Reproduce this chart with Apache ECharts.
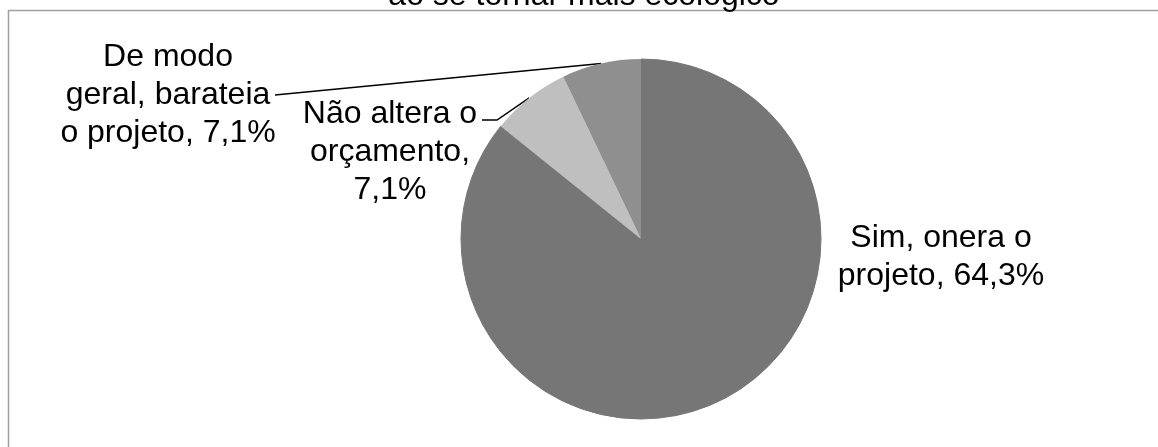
<!DOCTYPE html>
<html>
<head>
<meta charset="utf-8">
<script src="https://cdn.jsdelivr.net/npm/echarts@6/dist/echarts.min.js"></script>
<style>
html,body{margin:0;padding:0;background:#fff;}
#main{width:1158px;height:447px;}
</style>
</head>
<body>
<div id="main"></div>
<script>
// dados
var categorias = ['Sim, onera o projeto', 'Outros', 'Não altera o orçamento', 'De modo geral, barateia o projeto'];
var valores = [64.3, 21.4, 7.1, 7.1];
var rotulos = ['Sim, onera o\nprojeto, 64,3%', '', 'Não altera o\norçamento,\n7,1%', 'De modo\ngeral, barateia\no projeto, 7,1%'];
var cores = ['#767676', '#767676', '#bfbfbf', '#8f8f8f'];
var titulo = 'ao se tornar mais ecológico';

var dom = document.getElementById('main');
var chart = echarts.init(dom, null, {renderer: 'canvas'});

var fonte = '"Liberation Sans", Arial, sans-serif';

// posição de cada rótulo (x, y, pontos extras da linha)
var posRotulo = [
    {x: 941, y: 257, linha: null},
    null,
    {x: 390, y: 152, linha: [[497, 120], [482, 120]]},
    {x: 168, y: 95, linha: [[275, 95]]}
];

var dados = [];
for (var i = 0; i < valores.length; i++) {
    dados.push({
        name: categorias[i],
        value: valores[i],
        itemStyle: {color: cores[i], borderColor: cores[i], borderWidth: i < 2 ? 1 : 0},
        label: {show: rotulos[i] !== '', formatter: rotulos[i]},
        labelLine: {show: posRotulo[i] && posRotulo[i].linha ? true : false}
    });
}

var option = {
    animation: false,
    backgroundColor: '#fff',
    graphic: [
        {
            type: 'rect',
            shape: {x: 8.5, y: 10.5, width: 1160, height: 450},
            style: {fill: 'none', stroke: '#a0a0a0', lineWidth: 1.5},
            z: 0
        },
        {
            type: 'text',
            x: 584,
            y: 12,
            style: {
                text: titulo,
                font: '32px ' + fonte,
                fill: '#000',
                align: 'center',
                verticalAlign: 'bottom'
            },
            z: 10
        }
    ],
    series: [
        {
            name: 'custo',
            type: 'pie',
            center: [641, 239],
            radius: 180,
            startAngle: 90,
            clockwise: true,
            avoidLabelOverlap: false,
            data: dados,
            label: {
                position: 'outside',
                color: '#000',
                fontFamily: fonte,
                fontSize: 32,
                lineHeight: 38,
                align: 'center'
            },
            labelLine: {
                lineStyle: {color: '#000', width: 1.5},
                smooth: false
            },
            labelLayout: function (params) {
                var p = posRotulo[params.dataIndex];
                if (!p) {
                    return {};
                }
                var r = {
                    x: p.x,
                    y: p.y,
                    align: 'center',
                    verticalAlign: 'middle'
                };
                if (p.linha && params.labelLinePoints) {
                    var pts = [params.labelLinePoints[0]];
                    for (var k = 0; k < p.linha.length; k++) {
                        pts.push(p.linha[k]);
                    }
                    if (pts.length < 3) {
                        pts.push(p.linha[p.linha.length - 1]);
                    }
                    r.labelLinePoints = pts;
                }
                return r;
            }
        }
    ]
};

chart.setOption(option, true);
</script>
</body>
</html>
